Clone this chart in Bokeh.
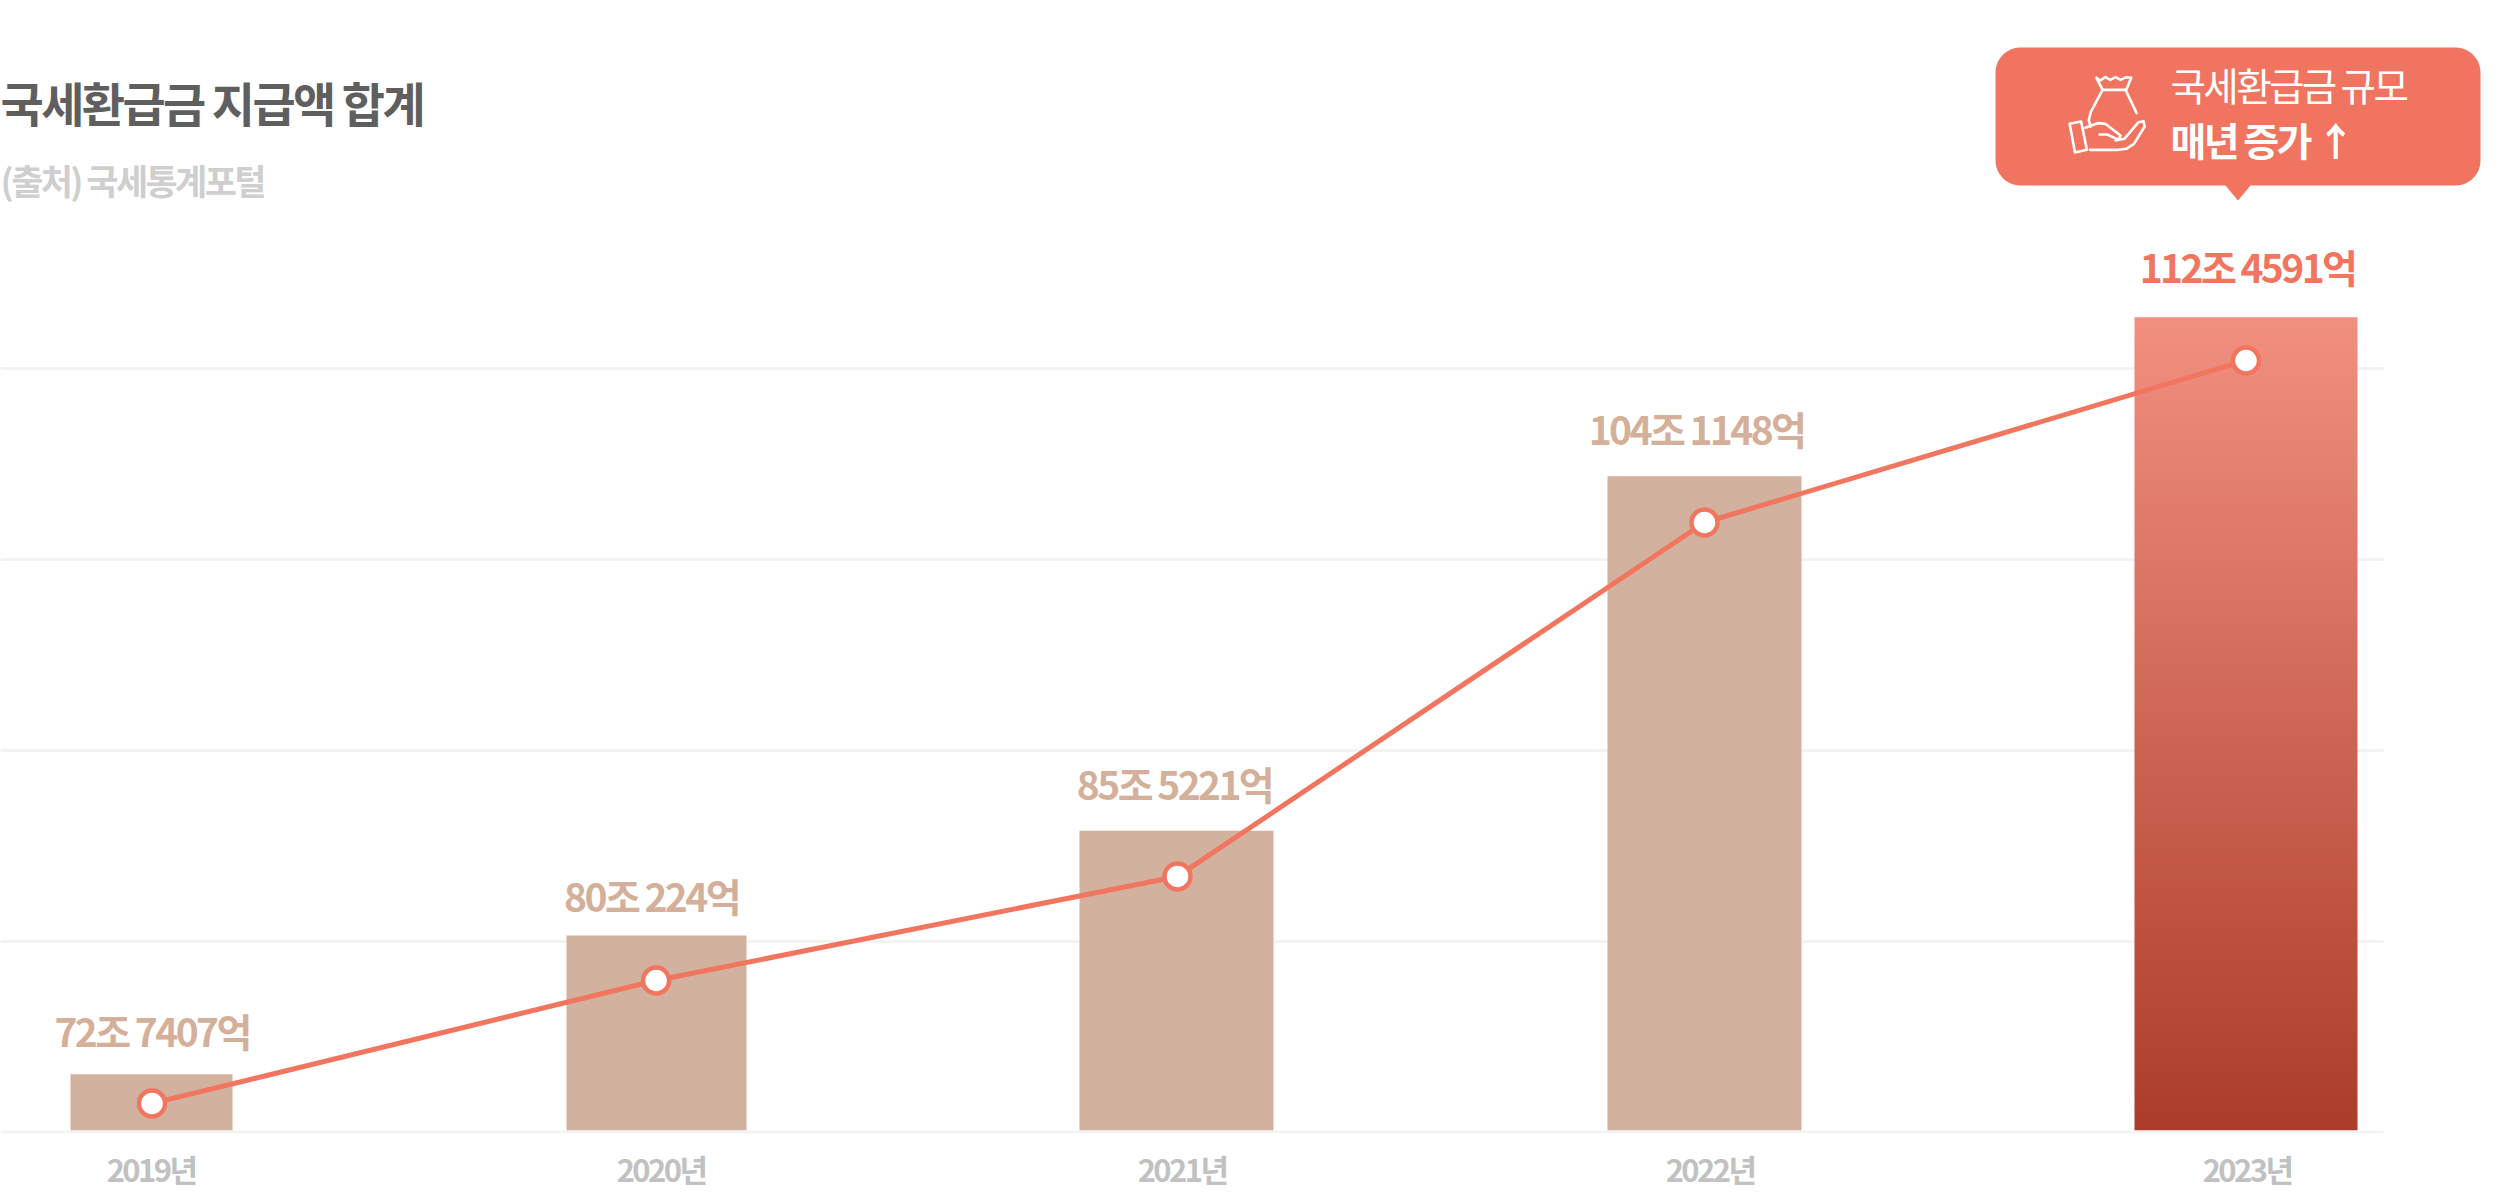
import numpy as np
from bokeh.plotting import figure
from bokeh.models import Range1d, FixedTicker, ColumnDataSource
from bokeh.core.properties import value
from bokeh.embed import file_html
from bokeh.resources import INLINE

FONT = "Noto Sans CJK KR"

# ---- data ----
years = ["2019년", "2020년", "2021년", "2022년", "2023년"]
amounts = [72.7407, 80.0224, 85.5221, 104.1148, 112.4591]   # 조 원
amount_labels = ["72조 7407억", "80조 224억", "85조 5221억", "104조 1148억", "112조 4591억"]
trend_values = [71.21, 77.66, 83.12, 101.69, 110.19]
grid_levels = [79.71, 89.73, 99.75, 109.77]
baseline_level = 69.71
title_text = "국세환급금 지급액 합계"
source_text = "(출처) 국세통계포털"
badge_line1 = "국세환급금 규모"
badge_line2 = "매년 증가 ↑"

# ---- layout (pixels along the x range, separate from the data) ----
bar_centers = [151, 656, 1176, 1704, 2245.5]
bar_widths = [162, 180, 194, 194, 223]
marker_x = [151.5, 655.6, 1177, 1704, 2245.5]
tick_x = [157, 667, 1188, 1716, 2253]
label_x = [151.6, 651, 1174, 1696, 2247]
label_gap = [44, 40, 48, 48, 51]
bar_base = 69.79
SPACING = 2.6

W, H, FRAME_H = 2500, 1202, 1133
PX_PER_UNIT = 19.06

def vy(py):
    """pixel row to value on the y range"""
    return 70 + (1126 - py) / PX_PER_UNIT

p = figure(width=W, height=H, frame_width=W, frame_height=FRAME_H,
           x_range=Range1d(0, W), y_range=Range1d(vy(FRAME_H), vy(0)),
           output_backend="svg", toolbar_location=None,
           min_border=0, min_border_left=0, min_border_right=0,
           min_border_top=0, min_border_bottom=0,
           background_fill_color="white", border_fill_color="white",
           outline_line_color=None, y_axis_location=None)
p.margin = (0, 0, 0, 0)
p.styles = {"letter-spacing": f"-{SPACING}px"}
p.grid.visible = False

# axis
ax = p.xaxis[0]
ax.ticker = FixedTicker(ticks=tick_x)
ax.major_label_overrides = {t: y for t, y in zip(tick_x, years)}
ax.axis_line_color = None
ax.major_tick_line_color = None
ax.minor_tick_line_color = None
ax.major_label_text_font = FONT
ax.major_label_text_font_size = "31px"
ax.major_label_text_font_style = "bold"
ax.major_label_text_color = "#c1c1c1"
ax.major_label_standoff = 6

GRID_C = "#f3f3f3"
GRID_END = 2383
# grid
p.segment(x0=[0] * len(grid_levels), x1=[GRID_END] * len(grid_levels),
          y0=grid_levels, y1=grid_levels, line_color=GRID_C, line_width=3)

# bars
BAR_C = "#d2b19e"
p.vbar(x=bar_centers[:4], width=bar_widths[:4], bottom=bar_base, top=amounts[:4],
       fill_color=BAR_C, line_color=None)
# gradient bar
TOP_RGB = np.array([0xF2, 0x90, 0x80])
BOT_RGB = np.array([0xAC, 0x3D, 0x2B])
N = 256
img = np.zeros((N, 1), dtype=np.uint32)
view = img.view(dtype=np.uint8).reshape((N, 1, 4))
for i in range(N):
    t = i / (N - 1)  # 0 bottom
    c = BOT_RGB + (TOP_RGB - BOT_RGB) * t
    view[i, 0, :3] = c.astype(np.uint8)
    view[i, 0, 3] = 255
p.image_rgba(image=[img], x=bar_centers[4] - bar_widths[4] / 2, y=bar_base,
             dw=bar_widths[4], dh=amounts[4] - bar_base)

# baseline over the bars
p.segment(x0=[0], x1=[GRID_END], y0=[baseline_level], y1=[baseline_level],
          line_color=GRID_C, line_width=3)

# trend
LINE_C = "#f1755f"
p.line(marker_x, trend_values, line_color=LINE_C, line_width=5)
p.scatter(marker_x, trend_values, size=26, marker="circle", fill_color="white",
          line_color=LINE_C, line_width=4.5)

# value labels: Bokeh centres on the width without the tighter spacing
LABEL_C = ["#d4b09b"] * 4 + [LINE_C]
shifted_x = [x + SPACING / 2 * len(t) for x, t in zip(label_x, amount_labels)]
src = ColumnDataSource(dict(x=shifted_x, y=amounts, t=amount_labels, c=LABEL_C,
                            off=[-g for g in label_gap]))
p.text(x="x", y="y", text="t", source=src, text_color="c", y_offset="off",
       text_align="center", text_baseline="middle", text_font=value(FONT),
       text_font_size="39px", text_font_style="bold")

# title + source
p.text(x=[0], y=[vy(101)], text=[title_text], text_color="#5f5f5f", text_align="left",
       text_baseline="middle", text_font=value(FONT), text_font_size="47px",
       text_font_style="bold")
p.text(x=[0], y=[vy(179)], text=[source_text], text_color="#cfcfcf", text_align="left",
       text_baseline="middle", text_font=value(FONT), text_font_size="35px",
       text_font_style="bold")

# badge
BADGE_C = "#f0745f"
def rounded(x0, y0, x1, y1, r, notch):
    a = np.linspace(0, np.pi / 2, 12)
    xs, ys = [], []
    xs += list(x0 + r - r * np.cos(a)); ys += list(y0 + r - r * np.sin(a))
    xs += list(x1 - r + r * np.sin(a)); ys += list(y0 + r - r * np.cos(a))
    xs += list(x1 - r + r * np.cos(a)); ys += list(y1 - r + r * np.sin(a))
    nx0, nx, nx1, ny = notch
    xs += [nx1, nx, nx0]; ys += [y1, ny, y1]
    xs += list(x0 + r - r * np.sin(a)); ys += list(y1 - r + r * np.cos(a))
    return xs, [vy(v) for v in ys]

bx, by = rounded(1995, 47, 2480, 185, 25, (2225, 2237.5, 2250, 200))
p.patch(bx, by, fill_color=BADGE_C, line_color=None)

p.text(x=[2170], y=[vy(83)], text=[badge_line1], text_color="white", text_align="left",
       text_baseline="middle", text_font=value(FONT), text_font_size="38.5px")
p.text(x=[2170], y=[vy(138)], text=[badge_line2], text_color="white", text_align="left",
       text_baseline="middle", text_font=value(FONT), text_font_size="39px",
       text_font_style="bold")

# icon (strokes in crop coordinates)
def ic(points):
    return ([1900 + a / 2.613 for a, b in points], [vy(b / 3) for a, b in points])

icon_paths = [
    [(512, 232), (522, 240), (535, 230), (548, 238), (562, 230), (575, 238), (590, 230),
     (603, 232), (590, 268), (528, 268), (512, 232)],
    [(528, 268), (497, 335), (492, 360), (497, 378)],
    [(588, 268), (617, 338)],
    [(442, 370), (472, 363), (487, 448), (456, 456), (442, 370)],
    [(483, 382), (515, 368), (535, 370), (575, 405), (570, 418), (540, 402), (520, 402)],
    [(562, 420), (585, 415), (622, 365), (635, 362), (638, 378), (610, 430), (590, 445),
     (570, 448), (495, 448)],
]
p.multi_line(xs=[ic(q)[0] for q in icon_paths], ys=[ic(q)[1] for q in icon_paths],
             line_color="white", line_width=2.6, line_join="round", line_cap="round")

open("out.html", "w").write(file_html(p, INLINE))
